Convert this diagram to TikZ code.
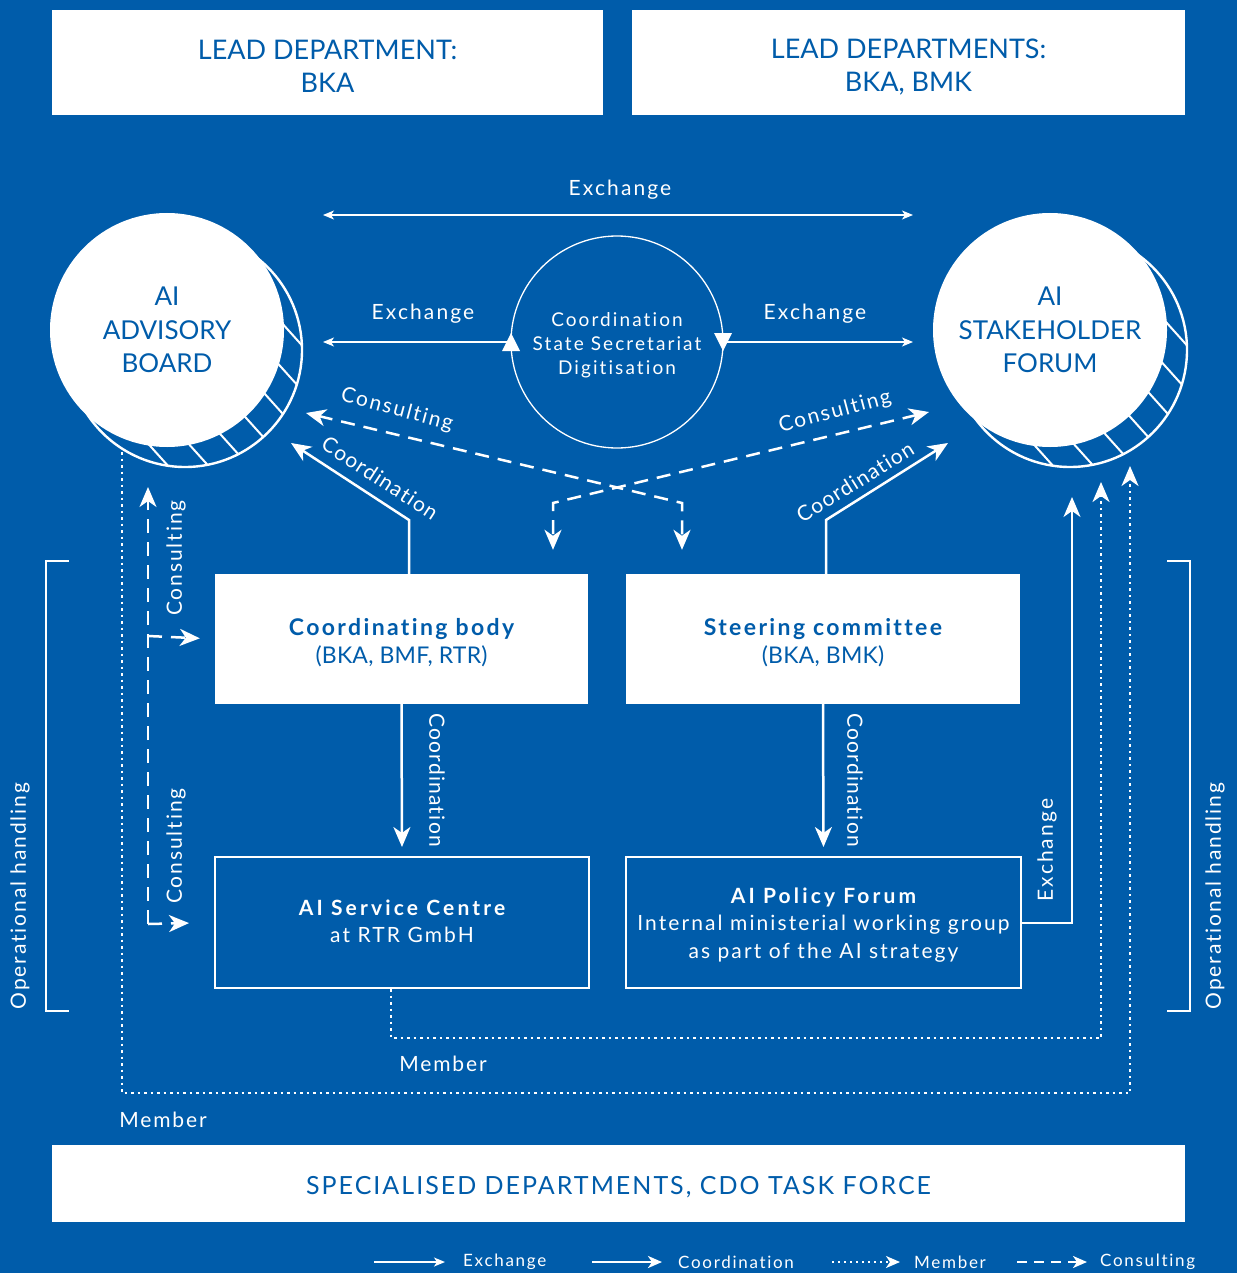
\documentclass[tikz,border=0pt]{standalone}
\usepackage{fontspec}
\setmainfont{Lato}
\newfontfamily\tfA[LetterSpace=9,Ligatures=NoCommon]{Lato}
\newfontfamily\tfC[LetterSpace=6,Ligatures=NoCommon]{Lato}
\newfontfamily\tfS[LetterSpace=11,Ligatures=NoCommon]{Lato}
\newfontfamily\tfBb[LetterSpace=10.3,Ligatures=NoCommon]{Lato}
\newfontfamily\tfBr[LetterSpace=1,Ligatures=NoCommon]{Lato}
\newfontfamily\tfLb[LetterSpace=15,Ligatures=NoCommon]{Lato}
\newfontfamily\tfLr[LetterSpace=10,Ligatures=NoCommon]{Lato}
\newfontfamily\tfX[LetterSpace=8,Ligatures=NoCommon]{Lato}
\newfontfamily\tfG[LetterSpace=10,Ligatures=NoCommon]{Lato}
\usetikzlibrary{arrows.meta}
\definecolor{bg}{RGB}{0,92,170}
\begin{document}
\begin{tikzpicture}[x=1pt,y=-1pt,
  every node/.style={inner sep=0pt, text=white},
  wbox/.style={fill=white},
  obox/.style={draw=white, line width=2pt},
  btext/.style={text=bg, align=center},
  lbl/.style={text=white, font=\tfA\fontsize{21}{24}\selectfont},
  lblx/.style={text=white, font=\tfG\fontsize{21}{24}\selectfont},
  lblc/.style={text=white, font=\tfC\fontsize{21}{24}\selectfont},
  lgd/.style={text=white, anchor=west, font=\tfG\fontsize{17}{20}\selectfont},
  bighead/.style={-{Stealth[length=20pt,width=17pt,inset=6pt]}},
  smallhead/.style={-{Stealth[length=11pt,width=9pt,inset=3pt]}},
  exch/.style={draw=white, line width=1.5pt, smallhead},
  coordarr/.style={draw=white, line width=2.5pt, bighead},
  memb/.style={draw=white, line width=2.5pt, dash pattern=on 2.5pt off 4pt, bighead},
  cons/.style={draw=white, line width=2.5pt, dash pattern=on 14pt off 9pt, bighead},
  brk/.style={draw=white, line width=2pt},
  shad/.style={draw=white, line width=2.4pt},
  hatch/.style={draw=white, line width=2pt}
]
% background
\fill[bg] (0,0) rectangle (1237,1273);

% top boxes
\node[wbox, minimum width=551pt, minimum height=105pt] (lead1) at (327.5,62.5) {};
\node[btext, font=\fontsize{27}{33}\selectfont] (lead1t) at (327.5,66.5) {LEAD DEPARTMENT:\\BKA};
\node[wbox, minimum width=553pt, minimum height=105pt] (lead2) at (908.5,62.5) {};
\node[btext, font=\fontsize{27}{33}\selectfont] (lead2t) at (908.5,67) {LEAD DEPARTMENTS:\\BKA, BMK};

% shadows of big circles (hatched crescents)
\foreach \cx/\cy in {185/350, 1070/350} {
  \begin{scope}
    \clip (\cx,\cy) circle (117);
    \foreach \k in {-7,...,7} {
      \draw[hatch] ({\cx+\k*22.3-107},{\cy-\k*20.1-119}) -- ({\cx+\k*22.3+107},{\cy-\k*20.1+119});
    }
  \end{scope}
  \draw[shad] (\cx,\cy) circle (117);
}

% big circles
\node[circle, fill=white, text=bg, minimum size=234pt, align=center, font=\fontsize{26}{33.5}\selectfont] (adv) at (167,330) {AI\\ADVISORY\\BOARD};
\node[circle, fill=white, text=bg, minimum size=234pt, align=center, font=\fontsize{26}{33.5}\selectfont] (stk) at (1050,330) {AI\\STAKEHOLDER\\FORUM};

% centre circle
\node[circle, draw=white, line width=1.3pt, minimum size=212pt] (ss) at (617,342) {};
\node[align=center, font=\tfS\fontsize{19}{24}\selectfont] (sst) at (617,345) {Coordination\\State Secretariat\\Digitisation};
\fill[white] (502,351) -- (520,351) -- (511,333) -- cycle;
\fill[white] (714,333) -- (732,333) -- (723,351) -- cycle;

% exchange arrows top
\coordinate (exTL) at (323,215);
\coordinate (exTR) at (913,215);
\coordinate (exL) at (323,342);
\coordinate (exR) at (913,342);
\draw[exch, {Stealth[length=11pt,width=9pt,inset=3pt]}-{Stealth[length=11pt,width=9pt,inset=3pt]}] (exTL) -- (exTR);
\draw[exch] (ss.west) -- (exL);
\draw[exch] (ss.east) -- (exR);
\node[lblx] (lexT) at (620,190) {Exchange};
\node[lblx] (lexL) at (423,314) {Exchange};
\node[lblx] (lexR) at (815,314) {Exchange};

% middle boxes
\node[wbox, minimum width=373pt, minimum height=130pt] (cb) at (401.5,639) {};
\node[btext, font=\fontsize{23}{28}\selectfont] (cbt) at (401.5,643) {{\tfBb\bfseries Coordinating body}\\{\tfBr (BKA, BMF, RTR)}};
\node[wbox, minimum width=394pt, minimum height=130pt] (sc) at (823,639) {};
\node[btext, font=\fontsize{23}{28}\selectfont] (sct) at (823,643) {{\tfBb\bfseries Steering committee}\\{\tfBr (BKA, BMK)}};

% lower boxes
\node[obox, minimum width=374pt, minimum height=131pt] (asc) at (402,922.5) {};
\node[align=center, font=\fontsize{21}{27}\selectfont] (asct) at (402,921.5) {{\tfLb\bfseries AI Service Centre}\\{\tfLr at RTR GmbH}};
\node[obox, minimum width=395pt, minimum height=131pt] (apf) at (823.5,922.5) {};
\node[align=center, font=\fontsize{21}{27.5}\selectfont] (apft) at (823.5,925) {{\tfLb\bfseries AI Policy Forum}\\{\tfLr Internal ministerial working group}\\{\tfLr as part of the AI strategy}};

% bottom box
\node[wbox, minimum width=1133pt, minimum height=77pt] (spec) at (618.5,1183.5) {};
\node[btext, font=\tfX\fontsize{25}{30}\selectfont] (spect) at (618.5,1187.5) {SPECIALISED DEPARTMENTS, CDO TASK FORCE};

% coordination arrows up
\coordinate (advC) at (291,443);
\coordinate (stkC) at (948,443);
\draw[coordarr] ([xshift=7.5pt]cb.north) -- (409,520) -- (advC);
\draw[coordarr] ([xshift=3pt]sc.north) -- (826,520) -- (stkC);
\node[lblc, rotate=-33] (lcoL) at (380,478) {Coordination};
\node[lblc, rotate=32] (lcoR) at (855,482) {Coordination};

% coordination arrows down
\draw[coordarr, shorten >=9pt] (cb.south) -- (asc.north);
\draw[coordarr, shorten >=9pt] (sc.south) -- (apf.north);
\node[lblc, rotate=-90] (lcdL) at (437,780) {Coordination};
\node[lblc, rotate=-90] (lcdR) at (855,780) {Coordination};

% consulting X
\coordinate (advK) at (306,413);
\coordinate (stkK) at (929,412);
\draw[cons, {Stealth[length=20pt,width=17pt,inset=6pt]}-{Stealth[length=20pt,width=17pt,inset=6pt]}, shorten >=24pt] (advK) -- (682,503) -- (sc.north -| 682,0);
\draw[cons, {Stealth[length=20pt,width=17pt,inset=6pt]}-{Stealth[length=20pt,width=17pt,inset=6pt]}, shorten >=24pt] (stkK) -- (553,503) -- (cb.north -| 553,0);
\node[lbl, rotate=-15] (lkL) at (397,410) {Consulting};
\node[lbl, rotate=15] (lkR) at (835,412) {Consulting};

% consulting left
\coordinate (advK2) at (148,487);
\draw[cons] (148,924) -- (advK2);
\draw[cons, shorten >=15pt] (148,636) -- (cb.west);
\draw[cons, shorten >=25pt] (148,924) -- (asc.west);
\node[lbl, rotate=90] (lkV1) at (176,558) {Consulting};
\node[lbl, rotate=90] (lkV2) at (176,846) {Consulting};

% exchange policy forum -> stakeholder
\coordinate (stkE) at (1072,497);
\draw[draw=white, line width=2pt, bighead] (apf.east) -- (1072,922.5) -- (stkE);
\node[lblx, rotate=90] (lexV) at (1047,850) {Exchange};

% member
\coordinate (stkM1) at (1101,482);
\coordinate (stkM2) at (1130,466);
\coordinate (advM) at (122,452);
\draw[memb] ([xshift=-11pt]asc.south) -- (391,1038) -- (1101,1038) -- (stkM1);
\draw[memb] (advM) -- (122,1093) -- (1130,1093) -- (stkM2);
\node[lbl] (lm1) at (443,1064) {Member};
\node[lbl] (lm2) at (163,1120) {Member};

% operational handling
\draw[brk] (69,561) -- (46,561) -- (46,1011) -- (69,1011);
\draw[brk] (1167,561) -- (1190,561) -- (1190,1011) -- (1167,1011);
\node[lbl, rotate=90] (lop1) at (20,896) {Operational handling};
\node[lbl, rotate=90] (lop2) at (1215,896) {Operational handling};

% legend
\draw[draw=white, line width=1.4pt, -{Stealth[length=11pt,width=9pt,inset=3pt]}] (374,1262) -- (445,1262);
\node[lgd] (lg1) at (463,1262) {Exchange};
\draw[draw=white, line width=2.5pt, -{Stealth[length=14pt,width=12pt,inset=4pt]}] (592,1262) -- (662,1262);
\node[lgd] (lg2) at (678,1262) {Coordination};
\draw[draw=white, line width=2pt, dash pattern=on 2pt off 4pt, -{Stealth[length=14pt,width=12pt,inset=4pt]}] (832,1262) -- (900,1262);
\node[lgd] (lg3) at (914,1262) {Member};
\draw[draw=white, line width=2.2pt, dash pattern=on 10pt off 7pt, -{Stealth[length=14pt,width=12pt,inset=4pt]}] (1017,1262) -- (1087,1262);
\node[lgd] (lg4) at (1100,1262) {Consulting};
\end{tikzpicture}
\end{document}
